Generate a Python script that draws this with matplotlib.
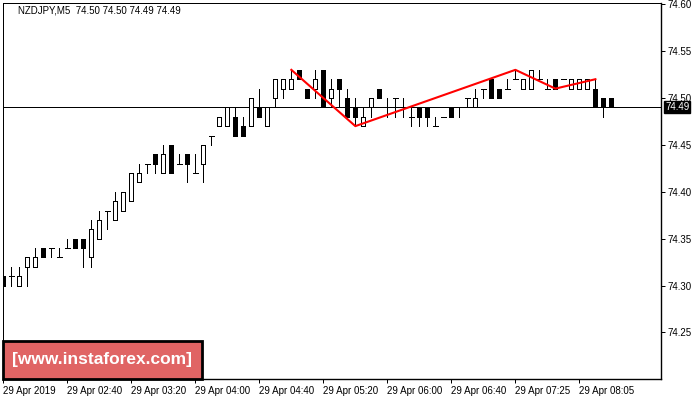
import matplotlib
matplotlib.use('Agg')
import matplotlib.pyplot as plt
from matplotlib.patches import Rectangle

# ---------------- data ----------------
symbol_header = "NZDJPY,M5  74.50 74.50 74.49 74.49"

opens = [74.31, 74.31, 74.30, 74.32, 74.32, 74.34, 74.34, 74.33, 74.34, 74.35,
         74.35, 74.33, 74.35, 74.38, 74.37, 74.38, 74.39, 74.41, 74.43, 74.44,
         74.42, 74.45, 74.43, 74.44, 74.42, 74.43, 74.46, 74.47, 74.47, 74.48,
         74.47, 74.47, 74.49, 74.47, 74.50, 74.51, 74.51, 74.53, 74.51, 74.51,
         74.53, 74.50, 74.52, 74.50, 74.49, 74.47, 74.49, 74.51, 74.49, 74.50,
         74.49, 74.48, 74.49, 74.49, 74.47, 74.48, 74.49, 74.49, 74.50, 74.49,
         74.51, 74.52, 74.51, 74.51, 74.52, 74.51, 74.51, 74.52, 74.51, 74.52,
         74.52, 74.51, 74.51, 74.51, 74.51, 74.50, 74.50]
highs = [74.31, 74.32, 74.32, 74.33, 74.34, 74.34, 74.34, 74.34, 74.35, 74.35,
         74.35, 74.37, 74.38, 74.38, 74.40, 74.40, 74.42, 74.43, 74.43, 74.44,
         74.45, 74.45, 74.44, 74.44, 74.44, 74.45, 74.46, 74.48, 74.49, 74.49,
         74.48, 74.50, 74.51, 74.49, 74.52, 74.52, 74.53, 74.53, 74.51, 74.53,
         74.53, 74.52, 74.52, 74.51, 74.50, 74.49, 74.50, 74.51, 74.50, 74.50,
         74.50, 74.49, 74.49, 74.49, 74.48, 74.48, 74.49, 74.49, 74.50, 74.51,
         74.51, 74.52, 74.51, 74.52, 74.53, 74.52, 74.53, 74.53, 74.52, 74.52,
         74.52, 74.52, 74.52, 74.52, 74.52, 74.50, 74.50]
lows = [74.30, 74.30, 74.30, 74.30, 74.32, 74.33, 74.33, 74.33, 74.34, 74.34,
        74.32, 74.32, 74.35, 74.36, 74.37, 74.38, 74.39, 74.41, 74.42, 74.42,
        74.42, 74.42, 74.43, 74.41, 74.42, 74.41, 74.45, 74.47, 74.47, 74.46,
        74.46, 74.47, 74.48, 74.47, 74.49, 74.50, 74.51, 74.52, 74.50, 74.50,
        74.49, 74.49, 74.49, 74.48, 74.47, 74.47, 74.48, 74.50, 74.48, 74.48,
        74.48, 74.47, 74.47, 74.47, 74.47, 74.48, 74.48, 74.48, 74.49, 74.49,
        74.50, 74.50, 74.50, 74.51, 74.52, 74.51, 74.51, 74.52, 74.51, 74.51,
        74.52, 74.51, 74.51, 74.51, 74.49, 74.48, 74.49]
closes = [74.30, 74.31, 74.31, 74.33, 74.33, 74.33, 74.34, 74.33, 74.34, 74.34,
          74.34, 74.36, 74.37, 74.38, 74.39, 74.40, 74.42, 74.42, 74.43, 74.43,
          74.44, 74.42, 74.43, 74.43, 74.42, 74.45, 74.46, 74.48, 74.49, 74.46,
          74.46, 74.50, 74.48, 74.49, 74.52, 74.52, 74.52, 74.52, 74.50, 74.52,
          74.49, 74.51, 74.51, 74.48, 74.48, 74.48, 74.50, 74.50, 74.49, 74.50,
          74.49, 74.48, 74.48, 74.48, 74.47, 74.48, 74.48, 74.49, 74.50, 74.50,
          74.51, 74.50, 74.50, 74.51, 74.52, 74.52, 74.53, 74.52, 74.51, 74.51,
          74.52, 74.52, 74.52, 74.52, 74.49, 74.49, 74.49]

pattern_idx = [36, 44, 64, 69, 74]
pattern_val = [74.53, 74.47, 74.53, 74.51, 74.52]

xtick_idx = [0, 8, 16, 24, 32, 40, 48, 56, 64, 72]
xtick_labels = ["29 Apr 2019", "29 Apr 02:40", "29 Apr 03:20", "29 Apr 04:00",
                "29 Apr 04:40", "29 Apr 05:20", "29 Apr 06:00", "29 Apr 06:40",
                "29 Apr 07:25", "29 Apr 08:05"]
ytick_vals = [74.25, 74.30, 74.35, 74.40, 74.45, 74.50, 74.55, 74.60]
ytick_labels = ["74.25", "74.30", "74.35", "74.40", "74.45", "74.50", "74.55", "74.60"]
current_price = 74.49
current_label = "74.49"
watermark = "[www.instaforex.com]"

# ---------------- figure ----------------
FONT = ['Liberation Sans', 'DejaVu Sans']
plt.rcParams['font.family'] = FONT

W, H = 700, 400
PX = 0.72  # one pixel in points at 100 dpi
fig = plt.figure(figsize=(7, 4), dpi=100)
fig.patch.set_facecolor('white')
ax = fig.add_axes([2.5 / W, 21 / H, 658.5 / W, 376.5 / H])
ax.set_facecolor('white')

body_w = 0.5
for i, (o, h, l, c) in enumerate(zip(opens, highs, lows, closes)):
    ax.vlines(i, l, h, color='black', lw=PX, zorder=2, antialiased=False)
    if abs(c - o) < 1e-9:
        ax.hlines(o, i - body_w / 2 - 0.06, i + body_w / 2 + 0.06, color='black',
                  lw=PX, zorder=3, antialiased=False)
    else:
        fc = 'white' if c > o else 'black'
        ax.add_patch(Rectangle((i - body_w / 2, min(o, c)), body_w, abs(c - o),
                               facecolor=fc, edgecolor='black', lw=PX,
                               zorder=3, antialiased=False))

# current price line
ax.axhline(current_price, color='black', lw=PX, zorder=1, antialiased=False)

# pattern line
ax.plot(pattern_idx, pattern_val, color='#ff0000', lw=1.5, zorder=4)

ax.set_xlim(-0.1, 82.2)
ax.set_ylim(74.2004, 74.6018)

ax.set_xticks(xtick_idx)
ax.set_xticklabels(xtick_labels, ha='left', fontsize=7)
ax.yaxis.tick_right()
ax.set_yticks(ytick_vals)
ax.set_yticklabels(ytick_labels, fontsize=7)
ax.tick_params(axis='x', direction='out', length=3, width=PX, pad=2, colors='black')
ax.tick_params(axis='y', direction='out', length=3, width=PX, pad=1.5, colors='black')

for side in ['left', 'top', 'right', 'bottom']:
    ax.spines[side].set_color('black')
    ax.spines[side].set_linewidth(PX)
ax.spines['right'].set_linewidth(1.0)
ax.spines['bottom'].set_linewidth(1.0)

# current price box
ax.annotate(current_label, xy=(1.0, current_price),
            xycoords=('axes fraction', 'data'), xytext=(3.0, 0),
            textcoords='offset points', ha='left', va='center', fontsize=7,
            color='white', annotation_clip=False, zorder=10,
            bbox=dict(boxstyle='square,pad=0.1', facecolor='black',
                      edgecolor='black'))

# header text
fig.text(18 / W, 1 - 10.5 / H, symbol_header, fontsize=7, ha='left',
         va='center', color='#000000')

# watermark
ax.add_patch(Rectangle((0.0005, 0.0), 199 / 658.5, 38.3 / 376.5,
                       transform=ax.transAxes, facecolor='#e06464',
                       edgecolor='black', lw=2.0, zorder=8, clip_on=False))
ax.text(0.0005 + 99.5 / 658.5, 19.5 / 376.5, watermark, transform=ax.transAxes,
        ha='center', va='center', fontsize=12.5, color='white',
        fontweight='bold', zorder=9)

fig.savefig('out.png', dpi=100)
